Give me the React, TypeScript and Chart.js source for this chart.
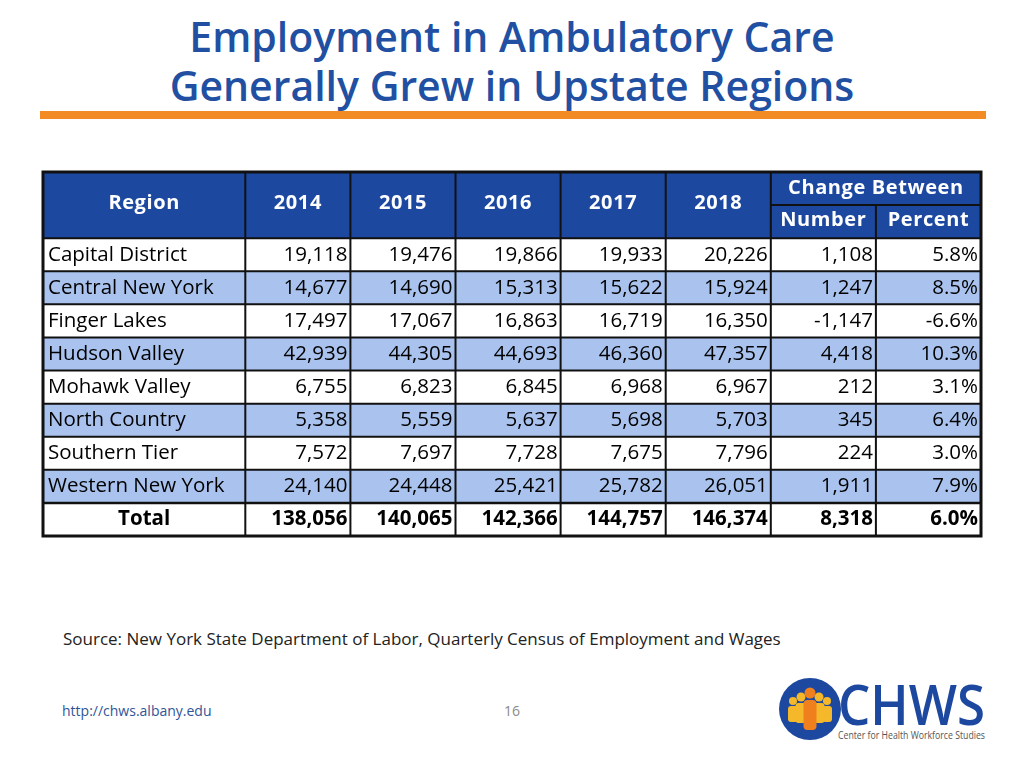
import React, { useEffect, useRef } from "react";
import { Chart, registerables } from "chart.js";

Chart.register(...registerables);

const titleLines = ["Employment in Ambulatory Care", "Generally Grew in Upstate Regions"];
const years = ["2014", "2015", "2016", "2017", "2018"];
const regions = [
  "Capital District",
  "Central New York",
  "Finger Lakes",
  "Hudson Valley",
  "Mohawk Valley",
  "North Country",
  "Southern Tier",
  "Western New York",
];
const v2014 = [19118, 14677, 17497, 42939, 6755, 5358, 7572, 24140];
const v2015 = [19476, 14690, 17067, 44305, 6823, 5559, 7697, 24448];
const v2016 = [19866, 15313, 16863, 44693, 6845, 5637, 7728, 25421];
const v2017 = [19933, 15622, 16719, 46360, 6968, 5698, 7675, 25782];
const v2018 = [20226, 15924, 16350, 47357, 6967, 5703, 7796, 26051];
const changeNumber = [1108, 1247, -1147, 4418, 212, 345, 224, 1911];
const changePercent = [5.8, 8.5, -6.6, 10.3, 3.1, 6.4, 3.0, 7.9];
const totalLabel = "Total";
const totals = [138056, 140065, 142366, 144757, 146374];
const totalChange = 8318;
const totalPercent = 6.0;
const sourceText = "Source: New York State Department of Labor, Quarterly Census of Employment and Wages";
const footerUrl = "http://chws.albany.edu";
const pageNumber = "16";

// layout (scale units)
const regionColWidth = 1.925;
const headerRows = 2;

const DARK_BLUE = "#1d48a0";
const LIGHT_BLUE = "#a9c3ee";
const TITLE_BLUE = "#2150a2";

const fmt = (n: number) => (n < 0 ? "-" : "") + Math.abs(n).toLocaleString("en-US");
const pct = (n: number) => n.toFixed(1) + "%";

export default function App() {
  const canvasRef = useRef<HTMLCanvasElement | null>(null);

  useEffect(() => {
    if (!canvasRef.current) return;
    const yearSeries = [v2014, v2015, v2016, v2017, v2018];
    const colEdges: number[] = [0, regionColWidth];
    for (let i = 0; i < years.length + 2; i++) colEdges.push(colEdges[colEdges.length - 1] + 1);
    const totalCols = colEdges[colEdges.length - 1];
    const totalRows = headerRows + regions.length + 1;

    const tablePlugin = {
      id: "tablePlugin",
      afterDraw(chart: any) {
        const ctx = chart.ctx as CanvasRenderingContext2D;
        const xs = chart.scales.x;
        const ys = chart.scales.y;
        const X = (v: number) => xs.getPixelForValue(v);
        const Y = (v: number) => ys.getPixelForValue(v);
        const left = X(0), right = X(totalCols), top = Y(0), bottom = Y(totalRows);
        ctx.save();
        // header fill
        ctx.fillStyle = DARK_BLUE;
        ctx.fillRect(left, top, right - left, Y(headerRows) - top);
        // data rows fill
        regions.forEach((_, i) => {
          const r = headerRows + i;
          ctx.fillStyle = i % 2 === 1 ? LIGHT_BLUE : "#ffffff";
          ctx.fillRect(left, Y(r), right - left, Y(r + 1) - Y(r));
        });
        ctx.fillStyle = "#ffffff";
        ctx.fillRect(left, Y(totalRows - 1), right - left, bottom - Y(totalRows - 1));

        const fontFam = "'Open Sans', sans-serif";
        ctx.textBaseline = "middle";
        // header text
        ctx.fillStyle = "#ffffff";
        ctx.font = `bold 20px ${fontFam}`;
        ctx.textAlign = "center";
        (ctx as any).letterSpacing = "0.6px";
        const hMid = (Y(0) + Y(headerRows)) / 2 - 2;
        ctx.fillText("Region", (X(colEdges[0]) + X(colEdges[1])) / 2, hMid);
        years.forEach((yr, i) => {
          ctx.fillText(yr, (X(colEdges[i + 1]) + X(colEdges[i + 2])) / 2, hMid);
        });
        const cA = colEdges[years.length + 1];
        const cB = colEdges[years.length + 2];
        const cC = colEdges[years.length + 3];
        ctx.fillText("Change Between", (X(cA) + X(cC)) / 2, (Y(0) + Y(1)) / 2);
        ctx.fillText("Number", (X(cA) + X(cB)) / 2, (Y(1) + Y(2)) / 2 - 1);
        ctx.fillText("Percent", (X(cB) + X(cC)) / 2, (Y(1) + Y(2)) / 2 - 1);
        (ctx as any).letterSpacing = "0px";

        // data text
        ctx.fillStyle = "#000000";
        const drawRow = (r: number, label: string, vals: string[], bold: boolean) => {
          const yMid = (Y(r) + Y(r + 1)) / 2;
          ctx.font = `${bold ? "bold " : ""}20.5px ${fontFam}`;
          if (bold) {
            ctx.textAlign = "center";
            ctx.fillText(label, (X(colEdges[0]) + X(colEdges[1])) / 2, yMid);
          } else {
            ctx.textAlign = "left";
            ctx.fillText(label, X(colEdges[0]) + 5, yMid);
          }
          ctx.textAlign = "right";
          vals.forEach((s, j) => {
            ctx.fillText(s, X(colEdges[j + 2]) - 3, yMid);
          });
        };
        regions.forEach((reg, i) => {
          const vals = yearSeries.map((s) => fmt(s[i]));
          vals.push(fmt(changeNumber[i]), pct(changePercent[i]));
          drawRow(headerRows + i, reg, vals, false);
        });
        const tv = totals.map(fmt);
        tv.push(fmt(totalChange), pct(totalPercent));
        drawRow(totalRows - 1, totalLabel, tv, true);

        // grid lines
        ctx.strokeStyle = "#111111";
        ctx.lineWidth = 2;
        ctx.beginPath();
        for (let r = headerRows; r < totalRows; r++) {
          ctx.moveTo(left, Y(r));
          ctx.lineTo(right, Y(r));
        }
        ctx.moveTo(X(cA), Y(1));
        ctx.lineTo(right, Y(1));
        for (let c = 1; c < colEdges.length - 1; c++) {
          const x = X(colEdges[c]);
          const y0 = colEdges[c] === cB ? Y(1) : top;
          ctx.moveTo(x, y0);
          ctx.lineTo(x, bottom);
        }
        ctx.stroke();
        ctx.lineWidth = 2.5;
        ctx.beginPath();
        ctx.moveTo(left, Y(totalRows - 1));
        ctx.lineTo(right, Y(totalRows - 1));
        ctx.stroke();
        // outer border
        ctx.lineWidth = 3;
        ctx.strokeRect(left, top, right - left, bottom - top);
        ctx.restore();
      },
    };

    const chart = new Chart(canvasRef.current, {
      type: "scatter",
      data: { datasets: [{ data: [] }] },
      options: {
        animation: false,
        responsive: true,
        maintainAspectRatio: false,
        layout: { padding: 2 },
        events: [],
        scales: {
          x: { type: "linear", min: 0, max: totalCols, display: false },
          y: { type: "linear", min: 0, max: totalRows, reverse: true, display: false },
        },
        plugins: { legend: { display: false }, tooltip: { enabled: false }, title: { display: false } },
      },
      plugins: [tablePlugin],
    });
    return () => chart.destroy();
  }, []);

  return (
    <div
      style={{
        position: "fixed",
        left: 0,
        top: 0,
        width: 1024,
        height: 768,
        background: "#ffffff",
        fontFamily: "'Open Sans', sans-serif",
        overflow: "hidden",
      }}
    >
      <div
        style={{
          position: "absolute",
          left: 0,
          width: 1024,
          top: 12,
          textAlign: "center",
          color: TITLE_BLUE,
          fontWeight: 600,
          fontSize: 41,
          lineHeight: "49px",
        }}
      >
        {titleLines.map((t) => (
          <div key={t}>{t}</div>
        ))}
      </div>
      <div style={{ position: "absolute", left: 40, top: 111, width: 946, height: 8, background: "#f28b24" }} />
      <div style={{ position: "absolute", left: 41, top: 170, width: 942, height: 368 }}>
        <canvas ref={canvasRef} />
      </div>
      <div style={{ position: "absolute", left: 63, top: 627, fontSize: 17, color: "#222" }}>{sourceText}</div>
      <div style={{ position: "absolute", left: 62, top: 701, fontSize: 14, color: "#2f5597" }}>{footerUrl}</div>
      <div style={{ position: "absolute", left: 492, width: 40, textAlign: "center", top: 701, fontSize: 14, color: "#8a8a8a" }}>
        {pageNumber}
      </div>
      <svg style={{ position: "absolute", left: 775, top: 673 }} width={220} height={75} viewBox="0 0 220 75">
        <circle cx={35} cy={36} r={31} fill="#1d48a0" />
        <g fill="#f5b82a">
          <circle cx={18} cy={28} r={4} />
          <rect x={13} y={33} width={10} height={16} rx={3} />
          <circle cx={52} cy={28} r={4} />
          <rect x={47} y={33} width={10} height={16} rx={3} />
          <circle cx={26} cy={24} r={4.5} />
          <rect x={20.5} y={30} width={11} height={20} rx={3} />
          <circle cx={44} cy={24} r={4.5} />
          <rect x={38.5} y={30} width={11} height={20} rx={3} />
        </g>
        <g fill="#f0801e">
          <circle cx={35} cy={20} r={5.5} />
          <rect x={28.5} y={27} width={13} height={30} rx={4} />
        </g>
        <text x={63} y={52} fontFamily="'Open Sans',sans-serif" fontWeight={600} fontSize={56} fill="#1d48a0" textLength={147} lengthAdjust="spacingAndGlyphs">
          CHWS
        </text>
        <text x={63} y={66} fontFamily="'Open Sans',sans-serif" fontSize={11} fill="#555" textLength={147} lengthAdjust="spacingAndGlyphs">
          Center for Health Workforce Studies
        </text>
      </svg>
    </div>
  );
}
